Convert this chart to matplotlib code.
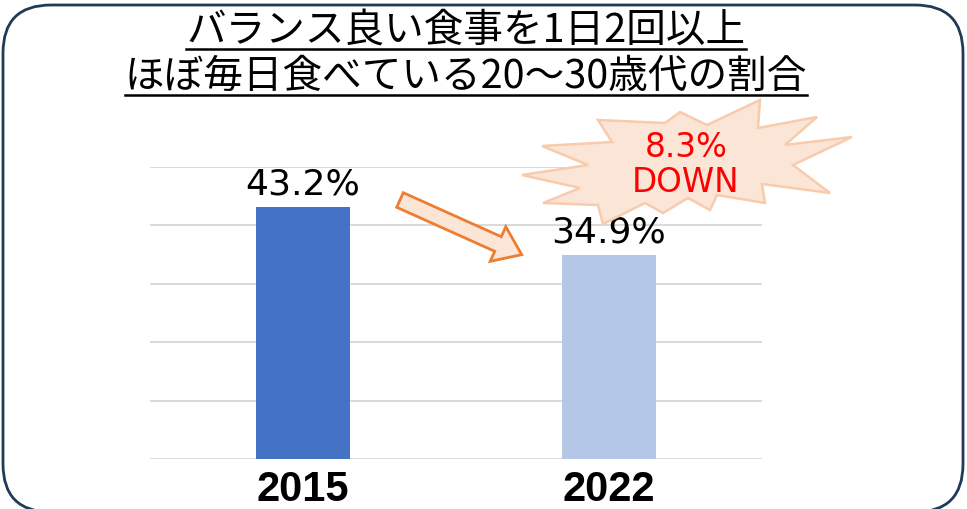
import matplotlib.pyplot as plt
from matplotlib.patches import FancyBboxPatch, Polygon, FancyArrow

plt.rcParams['font.family'] = ['Noto Sans CJK JP', 'DejaVu Sans']

# data
years = ['2015', '2022']
share = [43.2, 34.9]
bar_colors = ['#4472C4', '#B4C7E7']
title_lines = ['バランス良い食事を1日2回以上', 'ほぼ毎日食べている20～30歳代の割合']
drop_text = '8.3%\nDOWN'

W, H = 967, 509
fig = plt.figure(figsize=(W / 100, H / 100), dpi=100)

# bar chart area
ax = fig.add_axes([150 / W, (H - 459) / H, 612 / W, 292 / H])
x = range(len(years))
bars = ax.bar(x, share, width=0.31, color=bar_colors, zorder=2)
ax.set_xlim(-0.5, 1.5)
ax.set_ylim(0, 50)
ax.set_yticks(range(0, 51, 10))
ax.yaxis.grid(True, color='#D9D9D9', linewidth=1.4, zorder=0)
ax.tick_params(axis='y', left=False, labelleft=False)
ax.tick_params(axis='x', bottom=False, pad=19)
ax.set_xticks(list(x))
ax.set_xticklabels(years, fontsize=30, fontweight='bold',
                   family=['Liberation Sans'], va='center')
for s in ax.spines.values():
    s.set_visible(False)

for b, v in zip(bars, share):
    ax.annotate(f'{v}%', (b.get_x() + b.get_width() / 2, v),
                xytext=(0, 4), textcoords='offset points',
                ha='center', va='bottom', fontsize=26, family=['DejaVu Sans'])

# rounded frame, y measured upward so the bottom edge can sit just off the canvas
fr = fig.add_axes([0, 0, 1, 1], zorder=4)
fr.set_xlim(0, W)
fr.set_ylim(0, H)
fr.axis('off')
fr.patch.set_alpha(0)
fr.add_patch(FancyBboxPatch((3, -3), W - 7, H - 2,
                            boxstyle='round,pad=0,rounding_size=48',
                            facecolor='none', edgecolor='#1F3B57',
                            linewidth=2, clip_on=False))

# overlay in pixel units (from top) for title and callouts
ov = fig.add_axes([0, 0, 1, 1], zorder=3)
ov.set_xlim(0, W)
ov.set_ylim(H, 0)
ov.axis('off')
ov.patch.set_alpha(0)

title_y = [31, 77]
texts = []
for t, y in zip(title_lines, title_y):
    texts.append(ov.text(466, y, t, ha='center', va='center', fontsize=28.5,
                         color='black'))

fig.canvas.draw()
r = fig.canvas.get_renderer()
inv = ov.transData.inverted()
for t, y in zip(texts, title_y):
    bb = t.get_window_extent(r)
    (x0, _), (x1, _) = inv.transform([(bb.x0, bb.y0), (bb.x1, bb.y0)])
    ov.plot([x0, x1], [y + 18, y + 18], color='black', linewidth=1.8)

# burst shape behind the drop label
burst = [(522, 175), (588, 165), (542, 146), (612, 142), (598, 120),
         (665, 123), (680, 112), (707, 125), (760, 100), (758, 128),
         (817, 117), (785, 145), (852, 137), (793, 165), (830, 193),
         (762, 184), (765, 203), (717, 195), (710, 210), (688, 198),
         (663, 213), (645, 203), (603, 224), (598, 205), (543, 203),
         (580, 188)]
ov.add_patch(Polygon(burst, closed=True, facecolor='#FBE5D6',
                     edgecolor='#F8CBAD', linewidth=1.8))
ov.text(686, 165, drop_text, ha='center', va='center', fontsize=23.5,
        color='#FF0000', linespacing=1.1, family=['DejaVu Sans'])

# arrow between the bars
ov.add_patch(FancyArrow(400, 200, 98, 44, width=16, head_width=38,
                        head_length=26, length_includes_head=False,
                        facecolor='#FBE5D6', edgecolor='#ED7D31',
                        linewidth=2))

fig.savefig('out.png', dpi=100)
